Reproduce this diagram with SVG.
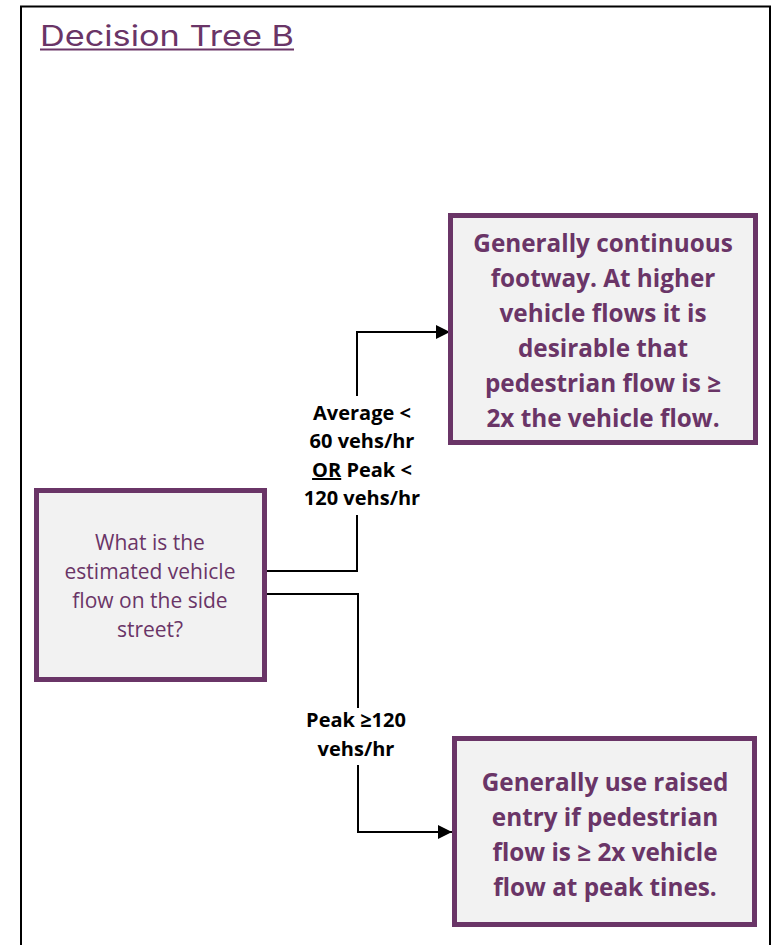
<svg xmlns="http://www.w3.org/2000/svg" width="775" height="945" viewBox="0 0 775 945">
<defs>
<style>
.box{fill:#f2f2f2;stroke:#6a3567;stroke-width:5;}
.big{font-family:"Open Sans","Liberation Sans",sans-serif;font-weight:700;font-size:24.3px;fill:#6a3567;text-anchor:middle;}
.q{font-family:"Open Sans","Liberation Sans",sans-serif;font-size:21px;fill:#6a3567;text-anchor:middle;}
.lbl{font-family:"Open Sans","Liberation Sans",sans-serif;font-weight:700;font-size:20px;fill:#000;text-anchor:middle;}
.con{fill:none;stroke:#000;stroke-width:2;}
</style>
<marker id="arr" viewBox="0 0 10 10" refX="10" refY="5" markerWidth="8" markerHeight="7" markerUnits="strokeWidth" orient="auto">
<path d="M0,0 L10,5 L0,10 z" fill="#000"/>
</marker>
</defs>
<rect width="775" height="945" fill="#fff"/>
<path d="M21,950 V6.5 H770 V950" fill="none" stroke="#000" stroke-width="2"/>
<g id="title">
<text x="40" y="46" font-family="Inter,'Liberation Sans',sans-serif" font-size="28" fill="#6a3567" textLength="254" lengthAdjust="spacingAndGlyphs">Decision Tree B</text>
<rect x="40" y="48.5" width="254" height="2" fill="#6a3567"/>
</g>
<g id="connectors">
<path class="con" d="M265,571 H357 V515"/>
<path class="con" d="M357,396 V332 H450" marker-end="url(#arr)"/>
<path class="con" d="M265,594 H358 V708"/>
<path class="con" d="M358,765 V832 H452" marker-end="url(#arr)"/>
<g id="label-low">
<text class="lbl" x="362" y="420">Average &lt;</text>
<text class="lbl" x="362" y="448">60 vehs/hr</text>
<text class="lbl" x="362" y="477"><tspan text-decoration="underline">OR</tspan> Peak &lt;</text>
<text class="lbl" x="362" y="505">120 vehs/hr</text>
</g>
<g id="label-high">
<text class="lbl" x="356" y="727">Peak ≥120</text>
<text class="lbl" x="356" y="756">vehs/hr</text>
</g>
</g>
<g id="question">
<rect class="box" x="36.5" y="490.5" width="228" height="189"/>
<text class="q" x="150" y="550">What is the</text>
<text class="q" x="150" y="579">estimated vehicle</text>
<text class="q" x="150" y="608">flow on the side</text>
<text class="q" x="150" y="637">street?</text>
</g>
<g id="outcome-low">
<rect class="box" x="450.5" y="215.5" width="305" height="227"/>
<text class="big" x="603" y="252">Generally continuous</text>
<text class="big" x="603" y="287">footway. At higher</text>
<text class="big" x="603" y="322">vehicle flows it is</text>
<text class="big" x="603" y="357">desirable that</text>
<text class="big" x="603" y="392">pedestrian flow is ≥</text>
<text class="big" x="603" y="427">2x the vehicle flow.</text>
</g>
<g id="outcome-high">
<rect class="box" x="454.5" y="738.5" width="300" height="186"/>
<text class="big" x="605" y="791">Generally use raised</text>
<text class="big" x="605" y="826">entry if pedestrian</text>
<text class="big" x="605" y="861">flow is ≥ 2x vehicle</text>
<text class="big" x="605" y="896">flow at peak tines.</text>
</g>
</svg>
